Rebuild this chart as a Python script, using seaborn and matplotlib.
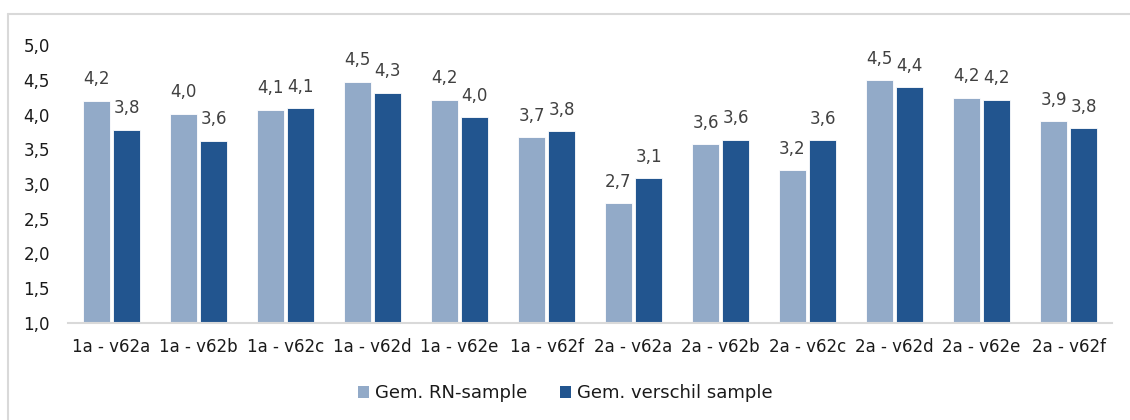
import matplotlib
matplotlib.use("Agg")
import matplotlib.pyplot as plt
from matplotlib.patches import Patch
from matplotlib.lines import Line2D
import seaborn as sns
import pandas as pd

# Mean scores per item for the two samples
categories = ["1a - v62a", "1a - v62b", "1a - v62c", "1a - v62d", "1a - v62e", "1a - v62f",
              "2a - v62a", "2a - v62b", "2a - v62c", "2a - v62d", "2a - v62e", "2a - v62f"]
rn_sample = [4.20, 4.01, 4.07, 4.47, 4.21, 3.67, 2.72, 3.57, 3.20, 4.49, 4.24, 3.90]
verschil_sample = [3.78, 3.62, 4.09, 4.31, 3.96, 3.76, 3.08, 3.64, 3.63, 4.39, 4.21, 3.80]
series_names = ["Gem. RN-sample", "Gem. verschil sample"]
y_ticks = [1.0, 1.5, 2.0, 2.5, 3.0, 3.5, 4.0, 4.5, 5.0]

colors = ["#92AAC8", "#22558F"]

df = pd.DataFrame({
    "item": categories * 2,
    "score": rn_sample + verschil_sample,
    "sample": [series_names[0]] * len(categories) + [series_names[1]] * len(categories),
})

sns.set_theme(style="white")
plt.rcParams["font.family"] = ["DejaVu Sans"]

fig = plt.figure(figsize=(11.3, 4.2), dpi=100)
ax = fig.add_axes([68 / 1130, 1 - 323 / 420, (1112 - 68) / 1130, (323 - 45) / 420])

sns.barplot(data=df, x="item", y="score", hue="sample", order=categories,
            hue_order=series_names, palette=colors, width=0.69, gap=0.13,
            edgecolor="white", linewidth=0.6, legend=False, ax=ax, saturation=1)

ax.set_ylim(1.0, 5.0)
ax.set_xlim(-0.5, len(categories) - 0.5)
ax.set_yticks(y_ticks)
ax.set_yticklabels([f"{v:.1f}".replace(".", ",") for v in y_ticks])
ax.set_xlabel("")
ax.set_ylabel("")

for side in ["left", "right", "top"]:
    ax.spines[side].set_visible(False)
ax.spines["bottom"].set_color("#D9D9D9")
ax.spines["bottom"].set_linewidth(1.5)

ax.tick_params(axis="y", length=0, pad=13, labelsize=12, labelcolor="#1A1A1A")
ax.tick_params(axis="x", length=0, pad=11, labelsize=12, labelcolor="#1A1A1A")

# Value labels above each bar, one decimal with a decimal comma
for container in ax.containers:
    for bar in container:
        h = bar.get_height()
        ax.annotate(f"{h:.1f}".replace(".", ","),
                    xy=(bar.get_x() + bar.get_width() / 2, h),
                    xytext=(0, 15.5), textcoords="offset points",
                    ha="center", va="center", fontsize=12, color="#404040")

handles = [Patch(facecolor=c, edgecolor="none") for c in colors]
fig.legend(handles, series_names, loc="center", bbox_to_anchor=(0.5, 27 / 420),
           ncol=2, frameon=False, fontsize=13, handlelength=0.65, handleheight=0.65,
           handletextpad=0.3, columnspacing=1.8, labelcolor="#1A1A1A")

# Chart frame
fig.add_artist(Line2D([7.5 / 1130, 7.5 / 1130], [0, 1 - 14 / 420],
                      transform=fig.transFigure, color="#D9D9D9", lw=1.5))
fig.add_artist(Line2D([7.5 / 1130, 1], [1 - 14 / 420, 1 - 14 / 420],
                      transform=fig.transFigure, color="#D9D9D9", lw=1.5))

fig.savefig("out.png", dpi=100)
